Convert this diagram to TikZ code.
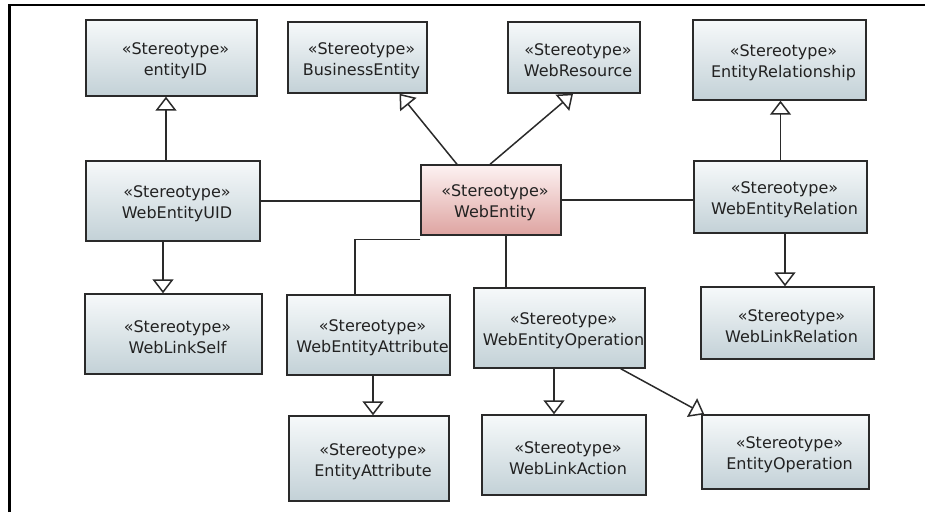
\documentclass[tikz,border=0pt]{standalone}
\usepackage{fontspec}
\setmainfont{DejaVu Sans}
\usetikzlibrary{arrows.meta,calc}
\definecolor{boxtop}{HTML}{F6F9FA}
\definecolor{boxbot}{HTML}{C3D1D7}
\definecolor{hottop}{HTML}{FDF2F2}
\definecolor{hotbot}{HTML}{DEA4A1}
\definecolor{edge}{HTML}{2A2A2A}
\definecolor{ink}{HTML}{222222}
% two-line stereotype label, nudged a little right and down
\newcommand{\stereo}[1]{\rule{0pt}{18pt}\hspace*{8pt}«Stereotype»\\\hspace*{8pt}#1}
\begin{document}
\begin{tikzpicture}[x=1pt,y=-1pt,
  box/.style={draw=edge, line width=1.4pt, top color=boxtop, bottom color=boxbot,
    inner sep=0pt, align=center, text=ink,
    font=\fontsize{16}{21}\selectfont},
  hot/.style={box, top color=hottop, bottom color=hotbot},
  link/.style={draw=edge, line width=1.5pt},
  gen/.style={link, -{Triangle[open, length=14pt, width=21pt, line width=1.5pt]}}]
\useasboundingbox (0,0) rectangle (925,512);

% page frame (left and top edges only)
\draw[line width=2.6pt, black] (9.3,512) -- (9.3,5) -- (925,5);

% classes
\node[box, minimum width=171pt, minimum height=76pt] (eid)   at (171.5,58)  {\stereo{entityID}};
\node[box, minimum width=139pt, minimum height=71pt] (bus)   at (357.5,57.5){\stereo{BusinessEntity}};
\node[box, minimum width=132pt, minimum height=71pt] (res)   at (574,57.5)  {\stereo{WebResource}};
\node[box, minimum width=173pt, minimum height=80pt] (erel)  at (779.5,60)  {\stereo{EntityRelationship}};
\node[box, minimum width=174pt, minimum height=80pt] (uid)   at (173,201)   {\stereo{WebEntityUID}};
\node[hot, minimum width=140pt, minimum height=70pt] (ent)   at (491,200)   {\stereo{WebEntity}};
\node[box, minimum width=173pt, minimum height=72pt] (rel)   at (780.5,197) {\stereo{WebEntityRelation}};
\node[box, minimum width=177pt, minimum height=80pt] (self)  at (173.5,334) {\stereo{WebLinkSelf}};
\node[box, minimum width=163pt, minimum height=80pt] (attr)  at (368.5,335) {\stereo{WebEntityAttribute}};
\node[box, minimum width=171pt, minimum height=80pt] (op)    at (559.5,328) {\stereo{WebEntityOperation}};
\node[box, minimum width=160pt, minimum height=85pt] (eattr) at (369,458.5) {\stereo{EntityAttribute}};
\node[box, minimum width=164pt, minimum height=80pt] (lact)  at (564,455)   {\stereo{WebLinkAction}};
\node[box, minimum width=173pt, minimum height=72pt] (lrel)  at (787.5,323) {\stereo{WebLinkRelation}};
\node[box, minimum width=167pt, minimum height=74pt] (eop)   at (785.5,452) {\stereo{EntityOperation}};

% generalisations
\draw[gen] ([xshift=-7pt]uid.north) -- ([xshift=-7pt]uid.north |- eid.south);
\draw[gen] ([xshift=-10pt]uid.south) -- ([xshift=-10pt]uid.south |- self.north);
\draw[gen] ([xshift=-34pt]ent.north) -- ([xshift=42pt]bus.south);
\draw[gen] ([xshift=-1pt]ent.north) -- ([xshift=-1pt]res.south);
\draw[gen] (rel.north) -- (rel.north |- erel.south);
\draw[gen] ([xshift=4.5pt]rel.south) -- ([xshift=4.5pt]rel.south |- lrel.north);
\draw[gen] ([xshift=4.5pt]attr.south) -- ([xshift=4.5pt]attr.south |- eattr.north);
\draw[gen] ([xshift=-5.5pt]op.south) -- ([xshift=-5.5pt]op.south |- lact.north);
\draw[gen] ([xshift=-25pt]op.south east) -- ([xshift=3pt]eop.north west);

% associations
\draw[link] (uid.east) -- (uid.east -| ent.west);
\draw[link] (ent.east) -- (ent.east -| rel.west);
\draw[link] ([yshift=-4pt]ent.south west) -| ([xshift=-13.5pt]attr.north);
\draw[link] ([xshift=15pt]ent.south) -- ([xshift=15pt]ent.south |- op.north);
\end{tikzpicture}
\end{document}
